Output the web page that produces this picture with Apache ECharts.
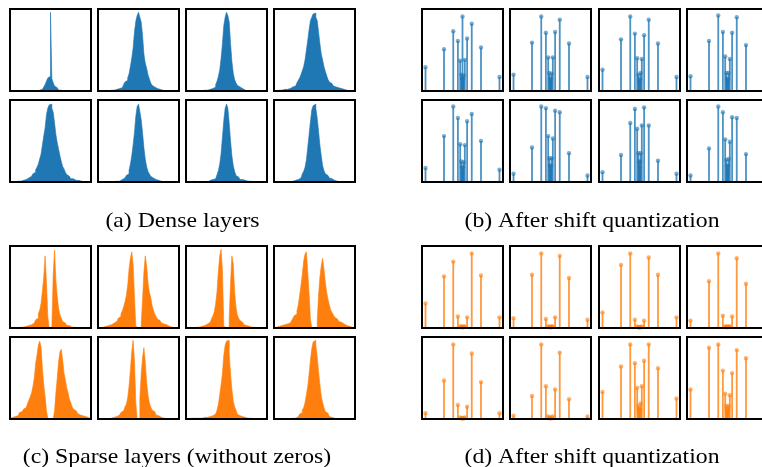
<!DOCTYPE html>
<html><head><meta charset="utf-8">
<script src="https://cdn.jsdelivr.net/npm/echarts@6/dist/echarts.min.js"></script>
<style>html,body{margin:0;padding:0;background:#fff;overflow:hidden;width:762px;height:467px}#c{width:772px;height:467px}</style>
</head><body><div id="c"></div>
<script>
// ---- (a) Dense layers: histogram heights (60 bins, % of panel height)
const dense1 = [0,0,0,0,0,0,0,0,0,0, 0,0,0,0,0,0,0,0,0,0, 0,0,1,2,3,5,8,12,16,18, 96,15,10,6,4,2,1,1,0,0, 0,0,0,0,0,0,0,0,0,0, 0,0,0,0,0,0,0,0,0,0];
const dense2 = [0,0,0,0,0,0,0,0,0,0, 1,1,1,2,2,3,3,4,6,8, 11,13,16,21,30,40,52,72,85,92, 96,90,84,68,45,34,28,20,15,10, 7,5,4,3,2,2,1,1,1,0, 0,0,0,0,0,0,0,0,0,0];
const dense3 = [0,0,0,0,0,0,0,0,0,0, 0,0,0,0,1,1,1,2,2,3, 4,5,8,12,18,26,40,58,80,90, 96,92,84,58,36,22,14,10,7,5, 4,3,2,1,1,0,0,0,0,0, 0,0,0,0,0,0,0,0,0,0];
const dense4 = [0,0,0,0,1,1,1,2,2,2, 3,3,4,5,5,6,8,10,13,16, 20,25,30,38,50,62,75,86,90,94, 95,90,86,72,58,45,38,30,24,19, 14,11,9,7,6,5,4,4,3,3, 2,2,1,1,0,0,0,0,0,0];
const dense5 = [0,0,0,0,0,1,1,1,2,2, 3,3,4,5,6,7,8,10,12,15, 18,22,28,34,45,56,66,82,90,94, 95,90,85,72,58,48,40,32,25,19, 16,12,9,7,5,4,4,3,2,2, 2,1,1,1,0,0,0,0,0,0];
const dense6 = [0,0,0,0,0,0,0,0,0,0, 0,0,0,0,1,1,2,3,4,5, 6,8,10,14,22,32,45,60,80,92, 95,86,76,60,42,28,19,13,10,7, 5,4,3,2,2,1,1,0,0,0, 0,0,0,0,0,0,0,0,0,0];
const dense7 = [0,0,0,0,0,1,1,0,1,0, 1,0,1,0,1,0,1,2,2,3, 3,4,6,9,14,22,35,55,75,90, 95,90,72,50,32,20,13,8,6,4, 3,3,2,2,1,1,1,1,0,0, 0,0,0,0,0,0,0,0,0,0];
const dense8 = [0,0,0,0,0,0,0,0,0,0, 0,0,0,0,1,2,2,3,4,5, 7,10,13,18,27,42,58,74,88,93, 95,90,78,62,45,32,20,14,10,8, 6,5,4,3,2,2,1,0,0,0, 0,0,0,0,0,0,0,0,0,0];

// ---- (c) Sparse layers without zeros
const sparse1 = [0,0,0,1,1,0,1,1,1,1, 2,2,2,3,3,4,6,6,8,10, 12,17,22,30,45,62,88,56,14,0, 0,2,65,95,58,38,24,16,12,8, 6,4,3,3,2,1,1,1,0,0, 0,0,0,0,0,0,0,0,0,0];
const sparse2 = [0,0,0,0,1,2,1,3,4,4, 5,6,7,8,9,12,14,17,21,26, 32,40,52,72,85,93,78,40,2,0, 0,0,4,35,68,88,76,56,44,38, 28,22,17,14,11,9,7,6,5,4, 4,3,2,2,1,1,0,0,0,0];
const sparse3 = [0,0,0,0,0,0,0,1,1,1, 2,2,3,3,4,5,6,7,9,12, 15,20,30,45,70,88,96,70,2,0, 0,0,12,55,88,78,45,26,16,12, 9,7,5,4,3,3,2,2,1,1, 1,1,0,0,0,0,0,0,0,0];
const sparse4 = [0,1,2,2,2,3,3,4,4,5, 6,6,8,9,12,15,17,21,28,40, 52,66,82,90,93,68,42,10,0,0, 0,0,8,40,62,76,85,72,56,44, 35,28,22,19,16,13,11,9,8,7, 5,5,4,3,3,2,2,1,1,0];
const sparse5 = [1,2,2,3,3,4,6,8,9,10, 12,14,16,19,23,27,32,40,50,68, 78,90,95,88,62,42,28,10,1,0, 0,0,2,10,32,50,70,82,85,72, 56,48,38,32,24,20,15,12,10,8, 7,5,5,4,3,3,2,2,2,1];
const sparse6 = [0,0,0,0,0,0,0,0,0,1, 2,2,2,3,4,5,6,8,10,12, 15,18,26,40,60,82,96,72,20,0, 0,25,55,75,87,70,45,30,20,15, 11,9,7,5,4,3,2,2,1,1, 0,0,0,0,0,0,0,0,0,0];
const sparse7 = [0,0,0,1,0,1,0,1,0,1, 0,1,0,2,0,2,2,3,3,4, 5,6,8,11,18,30,42,56,78,90, 95,96,80,55,36,22,15,11,6,4, 4,3,3,2,2,1,1,1,0,0, 0,0,0,0,0,0,0,0,0,0];
const sparse8 = [0,0,0,0,0,0,0,0,0,0, 0,0,0,0,1,1,2,3,4,6, 8,11,14,20,30,40,55,72,86,94, 96,90,76,58,42,28,20,14,9,7, 5,3,2,2,1,1,0,0,0,0, 0,0,0,0,0,0,0,0,0,0];

// ---- shift quantization levels and stem heights (fraction of panel height)
const levels = [-1,-0.5,-0.25,-0.125,-0.0625,-0.03125,-0.015625,0,0.015625,0.03125,0.0625,0.125,0.25,0.5,1];
const shiftDense1 = [0.29,0.51,0.73,0.61,0.37,0.20,0.15,0.91,0.14,0.19,0.38,0.64,0.82,0.53,0.17];
const shiftDense2 = [0.20,0.59,0.91,0.71,0.41,0.22,0.15,0.10,0.15,0.21,0.41,0.72,0.87,0.58,0.17];
const shiftDense3 = [0.26,0.63,0.91,0.70,0.40,0.20,0.14,0.10,0.14,0.22,0.39,0.68,0.87,0.58,0.17];
const shiftDense4 = [0.18,0.61,0.92,0.72,0.42,0.22,0.15,0.10,0.15,0.22,0.39,0.71,0.90,0.56,0.15];
const shiftDense5 = [0.17,0.56,0.92,0.78,0.46,0.25,0.18,0.12,0.18,0.24,0.45,0.74,0.83,0.50,0.15];
const shiftDense6 = [0.10,0.42,0.92,0.90,0.56,0.29,0.20,0.14,0.20,0.29,0.53,0.87,0.85,0.35,0.08];
const shiftDense7 = [0.12,0.33,0.72,0.89,0.65,0.35,0.25,0.18,0.25,0.35,0.69,0.91,0.69,0.26,0.10];
const shiftDense8 = [0.08,0.41,0.92,0.85,0.52,0.27,0.20,0.14,0.20,0.28,0.49,0.79,0.78,0.34,0.10];
const shiftSparse1 = [0.30,0.63,0.81,0.14,0.02,0.02,0.01,0,0.01,0.02,0.02,0.13,0.91,0.64,0.13];
const shiftSparse2 = [0.12,0.65,0.91,0.11,0.02,0.02,0.01,0,0.01,0.02,0.02,0.13,0.88,0.61,0.10];
const shiftSparse3 = [0.19,0.77,0.91,0.10,0.02,0.01,0.01,0,0.01,0.01,0.02,0.09,0.86,0.65,0.13];
const shiftSparse4 = [0.09,0.57,0.91,0.15,0.02,0.02,0.01,0,0.01,0.02,0.02,0.14,0.85,0.54,0.10];
const shiftSparse5 = [0.07,0.47,0.91,0.17,0.02,0.01,0.01,0,0.01,0.01,0.02,0.15,0.80,0.45,0.07];
const shiftSparse6 = [0.04,0.28,0.91,0.40,0.03,0.02,0.01,0,0.01,0.02,0.03,0.36,0.81,0.24,0.03];
const shiftSparse7 = [0.33,0.64,0.91,0.68,0.38,0.16,0.12,0.10,0.12,0.19,0.40,0.71,0.91,0.62,0.25];
const shiftSparse8 = [0.36,0.87,0.91,0.59,0.31,0.16,0.12,0.08,0.12,0.16,0.29,0.56,0.84,0.74,0.10];

const captions = ['(a) Dense layers','(b) After shift quantization','(c) Sparse layers (without zeros)','(d) After shift quantization'];

const BLUE = '#1f77b4', ORANGE = '#ff7f0e';
const W = 81, H = 82;
const colsL = [10, 98, 186, 274];
const colsR = [422, 510, 599, 687];
const rowsTop = [9, 100];
const rowsBot = [246, 337];

const grids = [], xAxes = [], yAxes = [], series = [];
function newGrid(left, top){
  const i = grids.length;
  grids.push({left, top, width: W, height: H, show: true, borderColor: '#000', borderWidth: 2,
    backgroundColor: 'transparent', z: 5, outerBoundsMode: 'none'});
  return i;
}
function addHist(data, left, top, color){
  const i = newGrid(left, top);
  xAxes.push({type: 'category', gridIndex: i, data: data.map((_, k) => k), show: false, boundaryGap: true});
  yAxes.push({type: 'value', gridIndex: i, min: 0, max: 100, show: false});
  series.push({type: 'line', xAxisIndex: i, yAxisIndex: i, data, step: 'middle', showSymbol: false, symbol: 'none',
    lineStyle: {color, width: 0.6}, areaStyle: {color, opacity: 1}, itemStyle: {color}, silent: true, z: 2});
}
function addStem(heights, left, top, color){
  const i = newGrid(left, top);
  xAxes.push({type: 'value', gridIndex: i, min: -1.095, max: 1.095, show: false});
  yAxes.push({type: 'value', gridIndex: i, min: 0, max: 1, show: false});
  series.push({type: 'custom', xAxisIndex: i, yAxisIndex: i, silent: true, z: 2,
    data: levels.map((x, k) => [x, heights[k]]),
    renderItem: function(params, api){
      const v = api.value(1);
      if (!(v > 0)) return null;
      const p0 = api.coord([api.value(0), 0]);
      const p1 = api.coord([api.value(0), v]);
      return {type: 'group', children: [
        {type: 'line', shape: {x1: p0[0], y1: p0[1], x2: p1[0], y2: p1[1]}, style: {stroke: color, lineWidth: 1.8, opacity: 0.8}},
        {type: 'circle', shape: {cx: p1[0], cy: p1[1], r: 2.2}, style: {fill: color, opacity: 0.6}}
      ]};
    }});
}

const denseSets = [dense1,dense2,dense3,dense4,dense5,dense6,dense7,dense8];
const sparseSets = [sparse1,sparse2,sparse3,sparse4,sparse5,sparse6,sparse7,sparse8];
const shiftDenseSets = [shiftDense1,shiftDense2,shiftDense3,shiftDense4,shiftDense5,shiftDense6,shiftDense7,shiftDense8];
const shiftSparseSets = [shiftSparse1,shiftSparse2,shiftSparse3,shiftSparse4,shiftSparse5,shiftSparse6,shiftSparse7,shiftSparse8];

for (let k = 0; k < 8; k++){
  const r = Math.floor(k / 4), c = k % 4;
  addHist(denseSets[k], colsL[c], rowsTop[r], BLUE);
  addStem(shiftDenseSets[k], colsR[c], rowsTop[r], BLUE);
  addHist(sparseSets[k], colsL[c], rowsBot[r], ORANGE);
  addStem(shiftSparseSets[k], colsR[c], rowsBot[r], ORANGE);
}

const capPos = [[182.5, 221], [592, 221], [177, 457], [592, 457]];
const graphic = captions.map((t, k) => ({
  type: 'text', x: capPos[k][0], y: capPos[k][1], scaleX: 1.13, scaleY: 1, silent: true,
  style: {text: t, align: 'center', verticalAlign: 'middle', font: '21px "Liberation Serif"', fill: '#000'}
}));

const chart = echarts.init(document.getElementById('c'), null, {renderer: 'canvas'});
chart.setOption({animation: false, grid: grids, xAxis: xAxes, yAxis: yAxes, series, graphic, tooltip: {show: false}});
</script></body></html>
